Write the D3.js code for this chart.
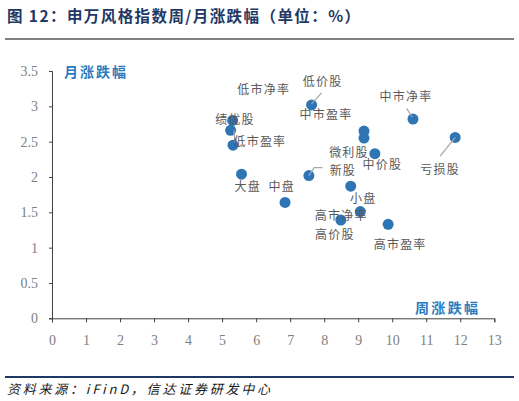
<!DOCTYPE html>
<html><head><meta charset="utf-8">
<script src="https://cdn.jsdelivr.net/npm/d3@7"></script>
<style>
html,body{margin:0;padding:0;background:#fff;}
svg{display:block;}
</style></head>
<body>
<svg id="c" width="519" height="401"></svg>
<script>
// ---- data ----
const names   = ["绩优股","低市盈率","低市净率","大盘","中盘","新股","低价股","中市盈率","微利股","中价股","中市净率","亏损股","小盘","高市净率","高价股","高市盈率"];
const weekly  = [5.31,5.25,5.32,5.57,6.85,7.55,7.63,9.17,9.17,9.49,10.61,11.85,8.78,9.06,8.49,9.88];
const monthly = [2.80,2.66,2.45,2.04,1.64,2.02,3.02,2.65,2.55,2.33,2.82,2.56,1.87,1.51,1.39,1.33];
const xTicks = [0,1,2,3,4,5,6,7,8,9,10,11,12,13];
const yTicks = [0,0.5,1,1.5,2,2.5,3,3.5];

// ---- layout (label placement, pixel offsets from point) ----
const labelOffsets = [[2.3,-1.7],[29.3,10.3],[30.7,-57],[6.2,11.5],[-3.3,-17.3],[34,-6.5],[11,-24],[-38,-17.4],
  [-15,13.6],[7.5,9.7],[-7,-23.7],[-15,31],[12.6,11.3],[-19,3],[-6,13],[12,19.3]];
const leaders = {
  "低价股": [[0,-1],[10,-12]],
  "中市净率": [[-1,-2],[-6.3,-10.7]],
  "亏损股": [[0,0],[-15,18.7]],
  "新股": [[0,0],[5.3,-8],[13.7,-8]],
  "低市盈率": [[3.3,0],[4.3,12]]
};

const svg = d3.select("#c");
const x = d3.scaleLinear().domain([0,13]).range([52,494.3]);
const y = d3.scaleLinear().domain([0,3.5]).range([318.3,71]);

// title
svg.append("text").attr("x",7).attr("y",14.5).attr("dominant-baseline","central")
  .attr("font-family","Noto Sans CJK SC").attr("font-weight","bold").attr("font-size",15.5)
  .attr("fill","#1f3864").attr("textLength",353).attr("lengthAdjust","spacing")
  .text("图 12：申万风格指数周/月涨跌幅（单位：%）");
svg.append("line").attr("x1",5).attr("x2",514).attr("y1",39).attr("y2",39)
  .attr("stroke","#7f7f7f").attr("stroke-width",2);

// axes
const gx = svg.append("g").attr("transform",`translate(0,${y(0)})`)
  .call(d3.axisBottom(x).tickValues(xTicks).tickSize(4).tickPadding(9).tickFormat(d3.format("d")));
const gy = svg.append("g").attr("transform",`translate(${x(0)},0)`)
  .call(d3.axisLeft(y).tickValues(yTicks).tickSize(3).tickPadding(11).tickFormat(d=>String(d)));
[gx,gy].forEach(g=>{
  g.select(".domain").attr("stroke","#404040");
  g.selectAll(".tick line").attr("stroke","#404040");
  g.selectAll(".tick text").attr("font-family","Liberation Serif").attr("font-size",14).attr("fill","#808080");
});
gx.selectAll(".tick text").attr("dy","1em");

// axis titles
svg.append("text").attr("x",64).attr("y",71).attr("dominant-baseline","central")
  .attr("font-family","Noto Sans CJK SC").attr("font-weight","bold").attr("font-size",14)
  .attr("fill","#2a7bc0").attr("textLength",62).attr("lengthAdjust","spacing").text("月涨跌幅");
svg.append("text").attr("x",415).attr("y",307.3).attr("dominant-baseline","central")
  .attr("font-family","Noto Sans CJK SC").attr("font-weight","bold").attr("font-size",14)
  .attr("fill","#2a7bc0").attr("textLength",63).attr("lengthAdjust","spacing").text("周涨跌幅");

// points
const data = names.map((n,i)=>({name:n,wx:weekly[i],my:monthly[i],off:labelOffsets[i]}));
svg.append("g").selectAll("circle").data(data).join("circle")
  .attr("cx",d=>x(d.wx)).attr("cy",d=>y(d.my)).attr("r",5.5).attr("fill","#2e75b6");

// leaders
const lineGen = d3.line();
svg.append("g").selectAll("path").data(data.filter(d=>leaders[d.name])).join("path")
  .attr("d",d=>lineGen(leaders[d.name].map(p=>[x(d.wx)+p[0],y(d.my)+p[1]])))
  .attr("fill","none").attr("stroke","#a6a6a6").attr("stroke-width",1.2);

// labels
svg.append("g").selectAll("text").data(data).join("text")
  .attr("x",d=>x(d.wx)+d.off[0]).attr("y",d=>y(d.my)+d.off[1])
  .attr("text-anchor","middle").attr("dominant-baseline","central")
  .attr("font-family","Noto Sans CJK SC").attr("font-size",12).attr("letter-spacing",1.2)
  .attr("fill","#595959").text(d=>d.name);

// footer
svg.append("line").attr("x1",5).attr("x2",514).attr("y1",377).attr("y2",377)
  .attr("stroke","#203864").attr("stroke-width",2);
svg.append("text").attr("x",7).attr("y",388.5).attr("dominant-baseline","central")
  .attr("font-family","Noto Sans CJK SC").attr("font-style","italic").attr("font-size",13)
  .attr("fill","#1a1a1a").attr("textLength",263).attr("lengthAdjust","spacing")
  .text("资料来源：iFinD，信达证券研发中心");
</script>
</body></html>
